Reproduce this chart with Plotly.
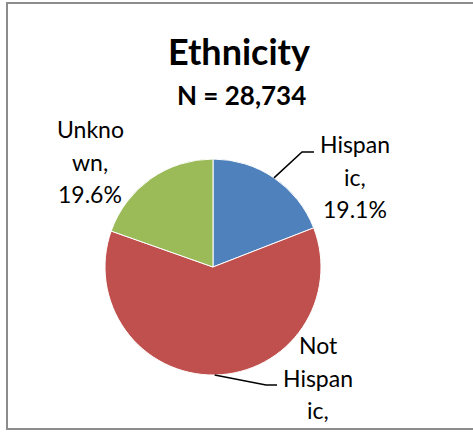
import math
import plotly.graph_objects as go

# Ethnicity breakdown (percent of N)
categories = ["Hispanic", "Not Hispanic", "Unknown"]
shares = [19.1, 61.3, 19.6]
label_lines = [["Hispan", "ic,"], ["Not", "Hispan", "ic,"], ["Unkno", "wn,"]]
colors = ["#4F81BD", "#C0504D", "#9BBB59"]
title_text = "Ethnicity"
subtitle_text = "N = 28,734"

W, H = 473, 432
FONT = "Lato"
LABEL_SIZE = 23
LINE_PITCH = 32.5
FRAME_BOTTOM = 429

# pie geometry in pixels
cx, cy, r = 213, 267, 108


def px(x):
    return x / W


def py(y):
    return 1 - y / H


fig = go.Figure()
fig.add_trace(go.Pie(
    labels=categories,
    values=shares,
    sort=False,
    direction="clockwise",
    rotation=0,
    marker=dict(colors=colors, line=dict(color="white", width=1)),
    textinfo="none",
    hoverinfo="label+percent",
    showlegend=False,
    domain=dict(x=[px(cx - r), px(cx + r)], y=[py(cy + r), py(cy - r)]),
))

# label placement: text centre x, cap-top of first line, leader-line knee/end
label_pos = {
    "Hispanic": dict(x=355, y=137, knee=(302, 152), end=(314, 152)),
    "Not Hispanic": dict(x=318, y=338, knee=(266, 385), end=(277, 385)),
    "Unknown": dict(x=90, y=122, knee=None, end=None),
}

annotations = []
shapes = []
total = sum(shares)
cum = 0.0
for cat, val, lines in zip(categories, shares, label_lines):
    mid = (cum + val / 2) / total * 2 * math.pi
    cum += val
    pos = label_pos[cat]
    all_lines = lines + [f"{val:.1f}%"]
    for i, line in enumerate(all_lines):
        cap_top = pos["y"] + i * LINE_PITCH
        # lines falling past the frame are clipped by the chart area
        if cap_top + 0.65 * LABEL_SIZE > FRAME_BOTTOM:
            continue
        annotations.append(dict(
            x=px(pos["x"]), y=py(cap_top - 9), xref="paper", yref="paper",
            xanchor="center", yanchor="top", showarrow=False, align="center",
            text=line, font=dict(family=FONT, size=LABEL_SIZE, color="#000000"),
        ))
    if pos["knee"] is not None:
        sx = cx + r * math.sin(mid)
        sy = cy - r * math.cos(mid)
        kx, ky = pos["knee"]
        ex, ey = pos["end"]
        shapes.append(dict(
            type="path", xref="paper", yref="paper",
            path=f"M {px(sx)},{py(sy)} L {px(kx)},{py(ky)} L {px(ex)},{py(ey)}",
            line=dict(color="#000000", width=1.5),
        ))

annotations.append(dict(
    x=px(239), y=py(27), xref="paper", yref="paper", xanchor="center",
    yanchor="top", showarrow=False, text=f"<b>{title_text}</b>",
    font=dict(family=FONT, size=36, color="#000000"),
))
annotations.append(dict(
    x=px(241), y=py(77), xref="paper", yref="paper", xanchor="center",
    yanchor="top", showarrow=False, text=f"<b>{subtitle_text}</b>",
    font=dict(family=FONT, size=26, color="#000000"),
))

# chart frame
shapes.append(dict(
    type="rect", xref="paper", yref="paper",
    x0=px(7), x1=px(480), y0=py(FRAME_BOTTOM), y1=py(3),
    line=dict(color="#8C8C8C", width=2), layer="below",
))

fig.update_layout(
    width=W, height=H,
    margin=dict(l=0, r=0, t=0, b=0),
    paper_bgcolor="white", plot_bgcolor="white",
    annotations=annotations, shapes=shapes,
)

fig.write_html("out.html")
